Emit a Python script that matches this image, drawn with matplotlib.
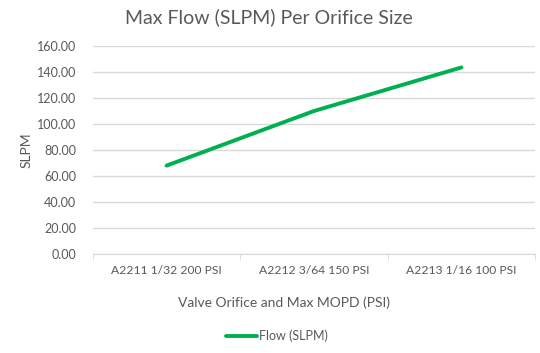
import matplotlib
matplotlib.use("Agg")
import matplotlib.pyplot as plt
import numpy as np

categories = ["A2211 1/32 200 PSI", "A2212 3/64 150 PSI", "A2213 1/16 100 PSI"]
flow = [68.0, 110.0, 143.5]
yticks = [0, 20, 40, 60, 80, 100, 120, 140, 160]

plt.rcParams['font.family'] = ['Lato', 'DejaVu Sans']
txt = '#595959'
fig = plt.figure(figsize=(5.4, 3.53), dpi=100)
ax = fig.add_axes([0.172, 0.2805, 0.819, 0.5892])
x = np.arange(len(categories))
line, = ax.plot(x, flow, color='#00B050', lw=2.8, solid_capstyle='round', label='Flow (SLPM)')
ax.set_xlim(-0.5, len(categories) - 0.5)
ax.set_ylim(0, 160)
ax.set_yticks(yticks)
ax.set_yticklabels([f"{v:.2f}" for v in yticks], color=txt, fontsize=9)
ax.set_xticks(x)
ax.set_xticklabels(categories, color=txt, fontsize=8.7)
ax.tick_params(axis='y', length=0, pad=12)
ax.tick_params(axis='x', which='major', length=0, pad=8)
ax.set_xticks(np.arange(-0.5, len(categories)), minor=True)
ax.tick_params(axis='x', which='minor', length=4, color='#D9D9D9', direction='out')
ax.grid(axis='y', color='#D9D9D9', lw=1)
ax.set_axisbelow(True)
for s in ['top', 'right', 'left']:
    ax.spines[s].set_visible(False)
ax.spines['bottom'].set_color('#D9D9D9')
fig.text(0.497, 0.952, 'Max Flow (SLPM) Per Orifice Size', fontsize=14, color=txt,
         ha='center', va='center')
ax.set_ylabel('SLPM', color=txt, fontsize=10, labelpad=3)
ax.set_xlabel('Valve Orifice and Max MOPD (PSI)', color=txt, fontsize=10, labelpad=15)
ax.xaxis.set_label_coords((284 / 540 - 0.172) / 0.819, -0.0)
ax.xaxis.label.set_va('center')
ax.xaxis.set_label_coords((284 / 540 - 0.172) / 0.819, ((353 - 303) / 353 - 0.2805) / 0.5892)
fig.legend(handles=[line], loc='center', bbox_to_anchor=(0.513, 0.048), frameon=False,
           fontsize=9, labelcolor=txt, handlelength=2.5, handletextpad=0.2)
fig.savefig('out.png', dpi=100)
